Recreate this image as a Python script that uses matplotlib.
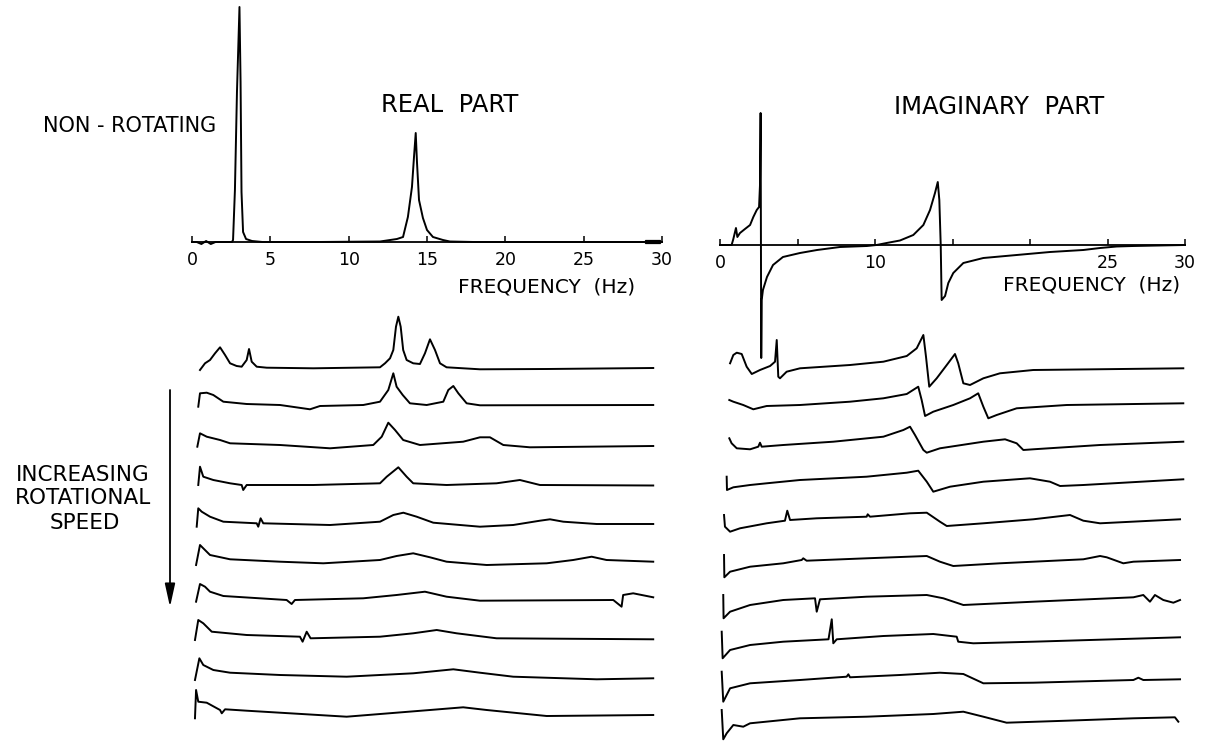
import matplotlib
matplotlib.use("Agg")
import matplotlib.pyplot as plt
from matplotlib.patches import Rectangle

plt.rcParams.update({
    "font.family": "DejaVu Sans",
    "font.size": 12,
})

W, H = 1209, 742
LW = 1.4

# ---- non-rotating spectra (amplitude in arbitrary units above the axis) ----
REAL_TOP_F = [0, 0.3, 0.6, 0.9, 1.2, 1.5, 2.0, 2.55, 2.62, 2.74, 2.87, 3.03, 3.1,
              3.16, 3.26, 3.45, 3.83, 4.5, 8.0, 12.0, 13.08, 13.47, 13.78, 14.04,
              14.17, 14.28, 14.36, 14.49, 14.74, 15.0, 15.38, 16.02, 16.46, 18.0, 30.0]
REAL_TOP_A = [0, 0, -2, 1, -2, 0, 0, 0, 2, 52, 150, 235, 160,
              50, 10, 3, 1, 0, 0, 0.5, 3, 5, 25, 55,
              85, 109, 80, 42, 24, 12, 5, 2, 0.5, 0, 0]

IMAG_TOP_F = [0, 0.75, 0.86, 1.03, 1.12, 1.29, 1.61, 1.94, 2.15, 2.37, 2.52, 2.58,
              2.62, 2.66, 2.69, 2.77, 3.03, 3.42, 4.06, 5.16, 6.26, 7.74, 9.48, 10.1,
              10.75, 11.61, 12.47, 13.12, 13.55, 13.87, 14.05, 14.15, 14.24, 14.30,
              14.52, 14.73, 15.05, 15.7, 16.99, 19.14, 21.29, 23.44, 24.52, 25.59,
              26.65, 30.0]
IMAG_TOP_A = [0, 0, 6, 17, 8, 12, 16, 20, 28, 35, 38, 60,
              132, -113, -55, -45, -32, -20, -12, -8, -5, -2, -1, 0,
              2, 4.5, 10, 20, 35, 52, 63, 45, 0, -55,
              -51, -38, -28, -18, -13, -10, -7, -5, -3, -1.5,
              -1, 0]

FREQ_TICKS = [0, 5, 10, 15, 20, 25, 30]
REAL_TICK_LABELS = ["0", "5", "10", "15", "20", "25", "30"]
IMAG_TICK_LABELS = ["0", "", "10", "", "", "25", "30"]

# ---- rotating spectra, ten traces each, top = slowest ----
REAL_BASELINES = [368, 405, 445, 485, 523, 562, 598, 637, 677, 713]
REAL_F = [
    [0.51, 0.83, 1.15, 1.47, 1.79, 2.11, 2.43, 2.85, 3.17, 3.49, 3.64, 3.81, 4.13, 4.77,
     7.74, 12.0, 12.32, 12.64, 12.85, 13.02, 13.17, 13.32, 13.48, 13.7, 14.12, 14.55,
     14.87, 15.19, 15.51, 15.83, 16.25, 18.38, 22.64, 29.44],
    [0.40, 0.51, 0.94, 1.36, 2.0, 3.49, 5.62, 7.53, 8.17, 10.93, 12.0, 12.53, 12.85,
     13.06, 13.45, 13.91, 14.98, 16.04, 16.36, 16.68, 17.0, 17.53, 18.38, 29.44],
    [0.34, 0.51, 0.94, 1.79, 2.43, 5.62, 8.81, 11.57, 12.11, 12.53, 12.96, 13.48,
     14.55, 17.31, 18.38, 19.02, 19.87, 21.57, 29.44],
    [0.40, 0.51, 0.72, 1.36, 2.43, 3.17, 3.27, 3.49, 7.74, 12.0, 12.43, 13.17, 13.7,
     14.12, 16.25, 19.44, 20.93, 22.21, 29.44],
    [0.30, 0.40, 0.62, 1.15, 2.0, 4.13, 4.23, 4.38, 4.55, 8.81, 12.0, 12.85, 13.49,
     14.34, 15.4, 18.38, 20.5, 22.21, 22.85, 23.7, 25.83, 29.44],
    [0.26, 0.51, 0.72, 1.15, 2.43, 5.62, 8.38, 12.0, 13.06, 14.12, 15.19, 16.25,
     18.81, 22.64, 24.33, 25.51, 26.46, 29.44],
    [0.26, 0.51, 0.83, 1.15, 2.0, 6.04, 6.36, 6.57, 10.93, 13.06, 14.87, 16.25,
     18.38, 26.89, 27.42, 27.52, 28.16, 29.44],
    [0.19, 0.40, 0.72, 1.26, 3.49, 6.89, 7.06, 7.32, 7.57, 12.0, 14.12, 15.62,
     16.89, 19.44, 29.44],
    [0.19, 0.47, 0.72, 1.36, 2.43, 5.62, 9.87, 14.12, 16.68, 18.38, 20.5, 25.83, 29.44],
    [0.19, 0.26, 0.40, 0.94, 1.79, 1.9, 2.11, 3.49, 9.87, 15.19, 17.31, 18.81,
     22.64, 29.44],
]
REAL_A = [
    [-2, 4.7, 8, 14.7, 20.7, 13, 4.7, 2, 1.3, 8, 19, 6.3, 1.3, 0.3,
     -0.3, 0.7, 4.7, 9.7, 18, 41.3, 51.3, 41.3, 18, 8, 4.7, 4,
     14.7, 28.7, 18, 4.7, 0.7, -1.3, -1, 0],
    [-1.7, 11.7, 12.3, 10, 3.3, 1, 0, -4.3, -1, 0, 3.3, 15, 31.7,
     18.3, 10, 1.7, 0, 3.3, 15, 19, 11.7, 1.7, -0.3, 0],
    [-1.7, 11.7, 8.3, 5, 1.7, 0, -3.3, 0, 8.3, 22.3, 15, 5,
     0, 3.3, 7.7, 7.7, 0, -2.3, -1],
    [0, 18.3, 8.3, 5, 1.7, 0, -5, 0, 0, 1.7, 8.3, 17.7, 8.3,
     1.7, 0, 1.7, 5, 0, -0.5],
    [-3.7, 14.7, 11.3, 6.3, 1.3, -0.3, -3.7, 4.7, -0.3, -2, 1.3, 8, 10.3,
     6.3, 0.3, -3.7, -2, 2.3, 3.7, 1.3, -1, -1],
    [-3, 17, 13.7, 7, 2.7, 0.3, -1.3, 2, 6, 8.7, 4.7, 0.3,
     -3, -1.3, 2, 5.3, 2, 0.3],
    [-3.7, 14, 11.3, 6.3, 2, -2, -6, -2, -0.3, 3, 6.3, 1.3,
     -2.7, -2, -8.7, 3, 4.7, 0.7],
    [-3, 17, 13.7, 5.3, 2, 0.3, -4.7, 5.3, -1.3, 0.3, 3.7, 7,
     3.7, -1.3, -2.3],
    [-3, 18.7, 12, 7, 4.3, 2, 0.3, 3.7, 7.7, 4.3, 0.3, -2.3, -1.3],
    [-5.3, 23, 11.3, 10.3, 3, -0.3, 3.7, 2.3, -3.7, 3, 5.7, 3,
     -3, -2],
]

IMAG_BASELINES = [368, 404, 442, 480, 519, 560, 601, 637, 679, 718]
IMAG_F = [
    [0.65, 0.86, 1.08, 1.4, 1.72, 2.05, 2.58, 3.23, 3.55, 3.66, 3.76, 3.87, 4.3, 5.16,
     8.39, 10.54, 12.05, 12.69, 13.12, 13.29, 13.5, 13.98, 14.63, 15.16, 15.37, 15.7,
     16.13, 16.99, 18.06, 20.21, 29.89],
    [0.6, 0.86, 1.5, 2.15, 3.01, 5.16, 8.39, 10.54, 12.05, 12.79, 13.01, 13.23, 13.76,
     15.05, 16.13, 16.66, 16.99, 17.31, 17.85, 19.14, 22.37, 29.89],
    [0.6, 0.75, 1.08, 1.94, 2.47, 2.58, 2.69, 4.08, 7.31, 10.54, 11.83, 12.26, 12.58,
     13.12, 13.34, 14.19, 16.99, 18.39, 19.14, 19.57, 20.21, 24.52, 29.89],
    [0.43, 0.45, 0.86, 1.94, 3.01, 5.16, 9.46, 12.05, 12.79, 13.34, 13.76, 14.84,
     16.99, 20.0, 21.29, 21.94, 23.44, 29.89],
    [0.26, 0.32, 0.65, 1.29, 3.01, 4.19, 4.34, 4.52, 6.24, 9.46, 9.53, 9.68, 12.26,
     13.34, 14.19, 14.63, 16.99, 20.21, 22.58, 23.44, 24.52, 29.68],
    [0.26, 0.28, 0.65, 1.94, 4.08, 5.27, 5.37, 5.59, 9.46, 13.34, 14.19, 15.05,
     18.06, 23.44, 24.52, 24.95, 26.02, 26.67, 29.68],
    [0.21, 0.23, 0.65, 1.94, 4.08, 6.13, 6.24, 6.45, 9.46, 13.34, 14.41, 15.7,
     20.21, 26.67, 27.31, 27.74, 28.06, 28.6, 29.25, 29.68],
    [0.11, 0.17, 0.65, 1.94, 4.08, 7.0, 7.21, 7.31, 7.53, 10.54, 13.76, 15.27,
     15.37, 16.34, 20.21, 29.68],
    [0.11, 0.21, 0.65, 1.94, 5.16, 8.17, 8.28, 8.39, 11.61, 14.19, 15.7, 16.99,
     20.21, 26.67, 26.99, 27.31, 29.68],
    [0.11, 0.21, 0.43, 0.86, 1.5, 1.94, 5.16, 9.46, 13.76, 15.7, 16.99, 18.49,
     22.37, 26.67, 29.35, 29.57],
]
IMAG_A = [
    [4.7, 13, 15.3, 14, 1.3, -6, -2, 2, 6.3, 28, -8.7, -10.3, -3.7, -0.3,
     3, 6.3, 12, 19.7, 33, 11.3, -18.7, -10.3, 3, 14, 4.7, -15.3,
     -17, -10.3, -5.3, -2, -0.3],
    [4, 2.3, -1, -5.3, -2, -1, 2.3, 5.7, 10, 17.3, 4, -12, -7.7,
     -1, 5.7, 10.7, -2.7, -14.3, -11, -4.3, -1, 0.7],
    [3.7, -1.3, -6.3, -7.3, -4.7, -0.7, -4.7, -3, 0.3, 5.3, 12, 15.3, 7,
     -8, -10.7, -6.3, 0.3, 2.7, -1.3, -8, -7.3, -3, 0.3],
    [3.3, -10, -7.3, -5, -3.3, 0, 3.3, 7.3, 9.3, -1.7, -11.7, -6.7,
     -1.7, 1.7, -1.7, -6, -5, 0.7],
    [4, -7.7, -12.7, -9.3, -4.3, -1.7, 8.3, -1, 0.7, 2.3, 4.7, 2.3, 5.7,
     6.3, -2.7, -7, -4.3, -0.3, 4, -1.7, -4.3, -0.3],
    [5, -17.3, -11.7, -6.7, -3.3, 0, 1.7, -0.7, 1.7, 4, -1.7, -6,
     -3.3, 0.7, 4, 2.7, -3.3, -1.7, 0],
    [6, -17.3, -10.7, -4, 1, 2.7, -10.7, 1.7, 4.3, 6, 2.7, -4,
     -0.7, 3.7, 6, -0.7, 6, 1, -1.7, 1],
    [5.3, -21.3, -13, -8, -4.7, -2.3, 17.7, -6.3, -2.3, 1, 3, 0.3,
     -4.7, -6.3, -4.7, -0.3],
    [7.3, -22.7, -9.3, -4.3, -1, 2.3, 4.7, 1.7, 4, 6.3, 5, -4.3,
     -3.7, -1, 1.3, -1, -0.3],
    [8, -21.3, -15.3, -7, -8.7, -5.3, -0.3, 1.3, 4, 6.3, 1.3, -4.7,
     -2.7, -0.3, 0.7, -3.7],
]


def px_axes(fig, x0, x1, y_top, y_bot):
    """Axes placed by pixel box of the original scan (y measured from top)."""
    return fig.add_axes([x0 / W, 1 - y_bot / H, (x1 - x0) / W, (y_bot - y_top) / H])


def style_freq_axis(ax, labels):
    for s in ("top", "right", "left"):
        ax.spines[s].set_visible(False)
    ax.spines["bottom"].set_position(("data", 0))
    ax.spines["bottom"].set_linewidth(1.3)
    ax.set_xlim(0, 30)
    ax.set_xticks(FREQ_TICKS)
    ax.set_xticklabels(labels)
    ax.tick_params(axis="x", direction="in", length=4.5, width=1.1,
                   pad=6.5, labelsize=12.5)
    ax.set_yticks([])
    ax.patch.set_visible(False)


fig = plt.figure(figsize=(W / 100, H / 100), dpi=100)

# top-left: real part, non-rotating
ax_re = px_axes(fig, 192, 662, 0, 300)
ax_re.set_ylim(-58, 242)
style_freq_axis(ax_re, REAL_TICK_LABELS)
ax_re.plot(REAL_TOP_F, REAL_TOP_A, color="black", lw=LW, clip_on=False)
ax_re.add_patch(Rectangle((28.9, -1.5), 1.0, 3.0, fill=False, lw=0.9, color="black"))

# top-right: imaginary part, non-rotating
ax_im = px_axes(fig, 720, 1185, 0, 400)
ax_im.set_ylim(-155, 245)
style_freq_axis(ax_im, IMAG_TICK_LABELS)
ax_im.plot(IMAG_TOP_F, IMAG_TOP_A, color="black", lw=LW, clip_on=False)

# bottom: waterfall of traces, y in scan pixel rows (inverted)
ax_rb = px_axes(fig, 192, 662, 300, 742)
ax_ib = px_axes(fig, 720, 1185, 300, 742)
for ax, base, fs, amps in ((ax_rb, REAL_BASELINES, REAL_F, REAL_A),
                           (ax_ib, IMAG_BASELINES, IMAG_F, IMAG_A)):
    ax.set_xlim(0, 30)
    ax.set_ylim(742, 300)
    ax.axis("off")
    for b, f, a in zip(base, fs, amps):
        ax.plot(f, [b - v for v in a], color="black", lw=LW, clip_on=False)

# labels and arrow, in scan pixel coordinates
ov = fig.add_axes([0, 0, 1, 1])
ov.set_xlim(0, W)
ov.set_ylim(H, 0)
ov.axis("off")

ov.text(450, 105, "REAL  PART", ha="center", va="center", fontsize=17.5)
ov.text(999, 107, "IMAGINARY  PART", ha="center", va="center", fontsize=17.5)
ov.text(130, 126, "NON - ROTATING", ha="center", va="center", fontsize=15)
ov.text(547, 287, "FREQUENCY  (Hz)", ha="center", va="center", fontsize=14.5)
ov.text(1092, 285, "FREQUENCY  (Hz)", ha="center", va="center", fontsize=14.5)
ov.text(83, 475, "INCREASING", ha="center", va="center", fontsize=15.5)
ov.text(83, 498, "ROTATIONAL", ha="center", va="center", fontsize=15.5)
ov.text(85, 523, "SPEED", ha="center", va="center", fontsize=15.5)
ov.annotate("", xy=(170, 607), xytext=(170, 390),
            arrowprops=dict(arrowstyle="-|>,head_length=1.0,head_width=0.22",
                            mutation_scale=14, lw=1.3, color="black",
                            shrinkA=0, shrinkB=0))

fig.savefig("out.png", dpi=100)
